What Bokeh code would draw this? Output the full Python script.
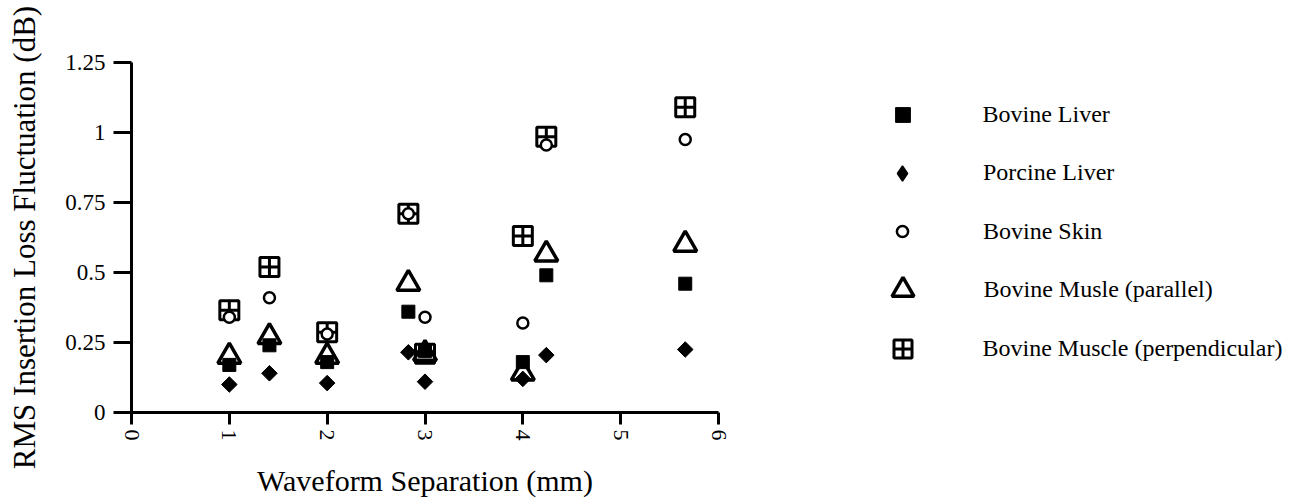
from bokeh.plotting import figure
from bokeh.layouts import row
from bokeh.models import Range1d, FixedTicker, Legend, LegendItem
from bokeh.embed import file_html
from bokeh.resources import INLINE

# ---- data ----
separation = [1, 1.41, 2, 2.83, 3, 4, 4.24, 5.66]
bovine_liver = [0.17, 0.24, 0.18, 0.36, 0.22, 0.18, 0.49, 0.46]
porcine_liver = [0.10, 0.14, 0.105, 0.215, 0.11, 0.12, 0.205, 0.225]
bovine_skin = [0.34, 0.41, 0.28, 0.71, 0.34, 0.32, 0.955, 0.975]
muscle_parallel = [0.20, 0.27, 0.20, 0.46, 0.21, 0.14, 0.565, 0.60]
muscle_perpendicular = [0.365, 0.52, 0.287, 0.71, 0.21, 0.63, 0.985, 1.09]

series_labels = ["Bovine Liver", "Porcine Liver", "Bovine Skin",
                 "Bovine Musle (parallel)", "Bovine Muscle (perpendicular)"]

x_ticks = [0, 1, 2, 3, 4, 5, 6]
y_ticks = [0, 0.25, 0.5, 0.75, 1, 1.25]
y_tick_labels = ["0", "0.25", "0.5", "0.75", "1", "1.25"]

FONT = "Liberation Serif"

# marker styles per series (Bovine Liver, Porcine Liver, Bovine Skin, parallel, perpendicular)
styles = [
    dict(marker="square", size=13, line_color="black", fill_color="black"),
    dict(marker="square", angle=0.785, size=11, line_color="black", fill_color="black"),
    dict(marker="circle", size=11, line_color="black", line_width=2.5, fill_color="white"),
    dict(marker="triangle", size=23, line_color="black", line_width=3.5, fill_color="white"),
    dict(marker="square_cross", size=19, line_color="black", line_width=3, fill_color="white"),
]
legend_styles = [dict(s) for s in styles]
legend_styles[1] = dict(marker="diamond", size=14, line_color="black", line_width=1.5,
                        fill_color="black")
series_values = [bovine_liver, porcine_liver, bovine_skin, muscle_parallel, muscle_perpendicular]
legend_glyph = [37, 38, 28, 55, 45]   # legend glyph box (marker drawn at 0.4 of it)

# ---- main plot ----
p = figure(width=800, height=500, output_backend="svg", toolbar_location=None,
           x_range=Range1d(0, 6), y_range=Range1d(0, 1.25),
           min_border_left=131, min_border_right=82,
           min_border_top=62, min_border_bottom=88)
p.outline_line_color = None
p.xgrid.visible = False
p.ygrid.visible = False

draw_order = [4, 2, 3, 0, 1]
for i in draw_order:
    p.scatter(separation, series_values[i], **styles[i])

for ax in (p.xaxis[0], p.yaxis[0]):
    ax.axis_line_width = 3
    ax.major_tick_line_width = 3
    ax.major_tick_in = 0
    ax.minor_tick_line_color = None
    ax.major_label_text_font = FONT
    ax.major_label_text_color = "black"
    ax.axis_label_text_font = FONT
    ax.axis_label_text_font_style = "normal"
    ax.axis_label_text_color = "black"

p.xaxis.ticker = FixedTicker(ticks=x_ticks)
p.xaxis.major_label_orientation = "vertical"
p.xaxis.major_tick_out = 12
p.xaxis.major_label_standoff = 5
p.xaxis.major_label_text_font_size = "22px"
p.xaxis.axis_label = "Waveform Separation (mm)"
p.xaxis.axis_label_text_font_size = "30px"
p.xaxis.axis_label_standoff = 20

p.yaxis.ticker = FixedTicker(ticks=y_ticks)
p.yaxis.major_label_overrides = {t: l for t, l in zip(y_ticks, y_tick_labels)}
p.yaxis.major_tick_out = 18
p.yaxis.major_label_standoff = 8
p.yaxis.major_label_text_font_size = "23px"
p.yaxis.axis_label = "RMS Insertion Loss Fluctuation (dB)"
p.yaxis.axis_label_text_font_size = "31px"
p.yaxis.axis_label_standoff = 20

# ---- legend panel (a figure whose ranges keep its sample glyphs out of view) ----
LW, LH = 500, 500
lg = figure(width=LW, height=LH, output_backend="svg", toolbar_location=None,
            x_range=Range1d(100, 101), y_range=Range1d(100, 101),
            x_axis_type=None, y_axis_type=None, min_border=0)
lg.outline_line_color = None
lg.xgrid.visible = False
lg.ygrid.visible = False

glyph_cx = 102          # marker centre, px from panel left
text_x = 183            # label start, px from panel left
row0, pitch = 112 + 90, 58.6   # row centres (with measured panel offset)
for k, (lab, vals) in enumerate(zip(series_labels, series_values)):
    r = lg.scatter(separation, vals, **legend_styles[k])
    g = legend_glyph[k]
    c = row0 + k * pitch
    leg = Legend(items=[LegendItem(label=lab, renderers=[r])],
                 location=(glyph_cx - g / 2, LH - (c + g / 2)),
                 glyph_width=g, glyph_height=g, label_height=g,
                 label_standoff=int(round(text_x - glyph_cx - g / 2)),
                 padding=0, margin=0, spacing=0,
                 border_line_color=None, background_fill_alpha=0,
                 label_text_font=FONT, label_text_font_size="24px",
                 label_text_color="black")
    lg.add_layout(leg)

layout = row(p, lg)
open("out.html", "w").write(file_html(layout, INLINE))
